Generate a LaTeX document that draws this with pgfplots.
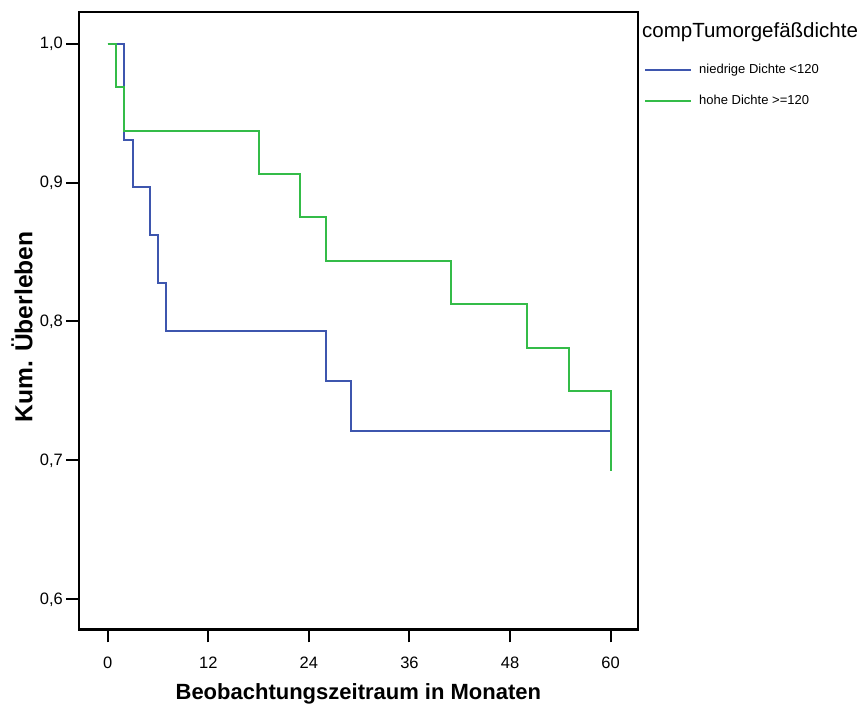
\documentclass[border=0pt]{standalone}
\usepackage{fontspec}
\setmainfont{Liberation Sans}
\usepackage{pgfplots}
\pgfplotsset{compat=1.18}
\definecolor{kmblue}{RGB}{62,86,174}
\definecolor{kmgreen}{RGB}{52,188,72}
\begin{document}
\begin{tikzpicture}[x=1pt,y=1pt]
\useasboundingbox (0,0) rectangle (864,713);
\begin{axis}[
  at={(79pt,83.7pt)}, anchor=south west,
  scale only axis, width=558.7pt, height=617pt,
  xmin=-3.42, xmax=63.23, ymin=0.5784, ymax=1.0226,
  xtick={0,12,24,36,48,60},
  ytick={0.6,0.7,0.8,0.9,1.0},
  tick align=outside, xtick pos=bottom, ytick pos=left,
  major tick length=13pt,
  tick style={black, line width=2pt},
  axis line style={black, line width=2.4pt},
  /pgf/number format/assume math mode=true,
  yticklabel style={/pgf/number format/use comma, /pgf/number format/fixed, /pgf/number format/fixed zerofill, /pgf/number format/precision=1},
  ticklabel style={font=\fontsize{16.5}{18}\selectfont},
  xticklabel style={inner sep=0pt, yshift=-14pt},
  yticklabel style={inner sep=0pt, xshift=-3pt},
  xlabel={\bfseries Beobachtungszeitraum in Monaten},
  ylabel={\bfseries Kum. Überleben},
  xlabel style={font=\fontsize{22}{26}\selectfont, at={(axis description cs:0.5,-0.1054)}, anchor=center},
  ylabel style={font=\fontsize{24.6}{28}\selectfont, at={(axis description cs:-0.102,0.49)}, anchor=center},
  legend image code/.code={\draw[#1] (0pt,0pt) -- (46pt,0pt);},
  legend style={draw=none, fill=none, inner sep=0pt, outer sep=0pt,
    at={(axis description cs:1.0116,0.916)}, anchor=north west,
    row sep=20pt, column sep=7pt,
    nodes={inner sep=0pt, anchor=west},
    font=\fontsize{13}{15}\selectfont},
  legend cell align=left,
]
\addplot[const plot, kmblue, line width=2pt] coordinates {
 (0,1.0) (1.9,0.9310) (3.0,0.8966) (5.0,0.8621) (6.0,0.8276) (7.0,0.7931)
 (26.0,0.7571) (29.0,0.7210) (60,0.7210)
};
\addlegendentry{niedrige Dichte <120}
\addplot[const plot, kmgreen, line width=2pt] coordinates {
 (0,1.0) (1.0,0.96875) (2.0,0.9375) (18.0,0.90625) (23.0,0.875) (26.0,0.84375)
 (41.0,0.8125) (50.0,0.78125) (55.0,0.75) (60,0.75) (60,0.6923)
};
\addlegendentry{hohe Dichte >=120}
\end{axis}
\node[anchor=west, inner sep=0pt, font=\fontsize{20.5}{24}\selectfont] at (642,681) {compTumorgefäßdichte};
\end{tikzpicture}
\end{document}
